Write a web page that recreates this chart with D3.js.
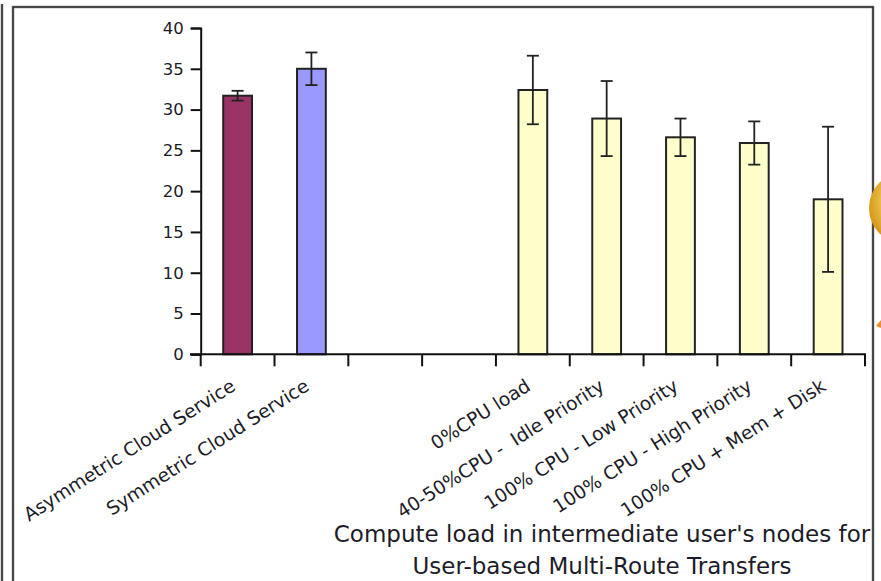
<!DOCTYPE html>
<html>
<head>
<meta charset="utf-8">
<script src="https://cdn.jsdelivr.net/npm/d3@7"></script>
<style>
  html, body { margin: 0; padding: 0; background: #fff; overflow: hidden; }
  svg { display: block; }
  text { font-family: "DejaVu Sans", Verdana, sans-serif; fill: #1c1c28; white-space: pre; }
</style>
</head>
<body>
<svg id="chart" width="881" height="581"></svg>
<script>
// Categories along the x axis (two empty slots separate the groups)
const categories = [
  "Asymmetric Cloud Service",
  "Symmetric Cloud Service",
  "",
  "",
  "0%CPU load",
  "40-50%CPU -  Idle Priority",
  "100% CPU - Low Priority",
  "100% CPU - High Priority",
  "100% CPU + Mem + Disk"
];
// Mean throughput per category and its error half-width
const values = [31.7, 35.0, null, null, 32.4, 28.9, 26.6, 25.9, 19.0];
const errors = [0.6, 2.0, null, null, 4.2, 4.6, 2.3, 2.65, 8.9];
const barColors = ["#993366", "#9999ff", null, null, "#ffffcc", "#ffffcc", "#ffffcc", "#ffffcc", "#ffffcc"];
const yTicks = [0, 5, 10, 15, 20, 25, 30, 35, 40];
const titleLines = ["Compute load in intermediate user's nodes for", "User-based Multi-Route Transfers"];

const svg = d3.select("#chart");

// Decorative frame
svg.append("line").attr("x1", 2).attr("x2", 2).attr("y1", 4).attr("y2", 581)
  .attr("stroke", "#bbb").attr("stroke-width", 3);
svg.append("line").attr("x1", 2).attr("x2", 2).attr("y1", 4).attr("y2", 581)
  .attr("stroke", "#222").attr("stroke-width", 1.5);
svg.append("rect").attr("x", 13).attr("y", 7).attr("width", 860).attr("height", 600)
  .attr("fill", "none").attr("stroke", "#bbb").attr("stroke-width", 3);
svg.append("rect").attr("x", 13).attr("y", 7).attr("width", 860).attr("height", 600)
  .attr("fill", "none").attr("stroke", "#222").attr("stroke-width", 1.5);

// Golden ornament on the right edge
const defs = svg.append("defs");
const grad = defs.append("radialGradient").attr("id", "gold").attr("cx", "65%").attr("cy", "40%").attr("r", "65%");
grad.append("stop").attr("offset", "0%").attr("stop-color", "#fff4c8");
grad.append("stop").attr("offset", "55%").attr("stop-color", "#f3cf5a");
grad.append("stop").attr("offset", "100%").attr("stop-color", "#d79a1e");
svg.append("ellipse").attr("cx", 900).attr("cy", 208).attr("rx", 31).attr("ry", 34)
  .attr("fill", "url(#gold)");
svg.append("path").attr("d", "M876,326 L881,320 L881,328 Z").attr("fill", "#f08a2a");

const x = d3.scaleBand().domain(d3.range(categories.length)).range([200.7, 865]).padding(0);
const y = d3.scaleLinear().domain([0, 40]).range([354.3, 28]);

const barW = x.bandwidth() * 0.39;
const idx = d3.range(categories.length).filter(i => values[i] !== null);

// Bars
svg.append("g").selectAll("rect").data(idx).join("rect")
  .attr("x", i => x(i) + x.bandwidth() / 2 - barW / 2)
  .attr("y", i => y(values[i]))
  .attr("width", barW)
  .attr("height", i => y(0) - y(values[i]))
  .attr("fill", i => barColors[i])
  .attr("stroke", "#222")
  .attr("stroke-width", 2);

// Error bars
const eb = svg.append("g").attr("stroke", "#222").attr("stroke-width", 1.8);
idx.forEach(i => {
  const cx = x(i) + x.bandwidth() / 2;
  const lo = y(values[i] - errors[i]), hi = y(values[i] + errors[i]);
  eb.append("line").attr("x1", cx).attr("x2", cx).attr("y1", lo).attr("y2", hi);
  eb.append("line").attr("x1", cx - 6).attr("x2", cx + 6).attr("y1", lo).attr("y2", lo);
  eb.append("line").attr("x1", cx - 6).attr("x2", cx + 6).attr("y1", hi).attr("y2", hi);
});

// Y axis
const yAxis = svg.append("g").attr("transform", "translate(200.7,0)")
  .call(d3.axisLeft(y).tickValues(yTicks).tickSize(10).tickPadding(7));
yAxis.select(".domain").attr("stroke", "#111").attr("stroke-width", 2);
yAxis.selectAll(".tick line").attr("stroke", "#111").attr("stroke-width", 2);
yAxis.selectAll(".tick text").attr("font-size", 16.5).attr("fill", "#1c1c28")
  .attr("font-family", "DejaVu Sans, Verdana, sans-serif");

// X axis: line plus ticks on band boundaries
const xAxis = svg.append("g");
xAxis.append("line").attr("x1", 190).attr("x2", x.range()[1] + 1).attr("y1", y(0)).attr("y2", y(0))
  .attr("stroke", "#111").attr("stroke-width", 2);
xAxis.selectAll("line.tk").data(d3.range(categories.length + 1)).join("line")
  .attr("class", "tk")
  .attr("x1", i => x.range()[0] + i * x.step())
  .attr("x2", i => x.range()[0] + i * x.step())
  .attr("y1", y(0)).attr("y2", y(0) + 12)
  .attr("stroke", "#111").attr("stroke-width", 2);

// Rotated category labels
xAxis.selectAll("text").data(d3.range(categories.length)).join("text")
  .attr("transform", i => `translate(${x(i) + x.bandwidth() / 2 - 1},${y(0) + 35}) rotate(-32.5)`)
  .attr("text-anchor", "end")
  .attr("font-size", 18.7)
  .text(i => categories[i]);

// Axis title
svg.append("g").selectAll("text").data(titleLines).join("text")
  .attr("x", 602)
  .attr("y", (d, i) => 541.5 + i * 32.5)
  .attr("text-anchor", "middle")
  .attr("font-size", 23)
  .text(d => d);
</script>
</body>
</html>
